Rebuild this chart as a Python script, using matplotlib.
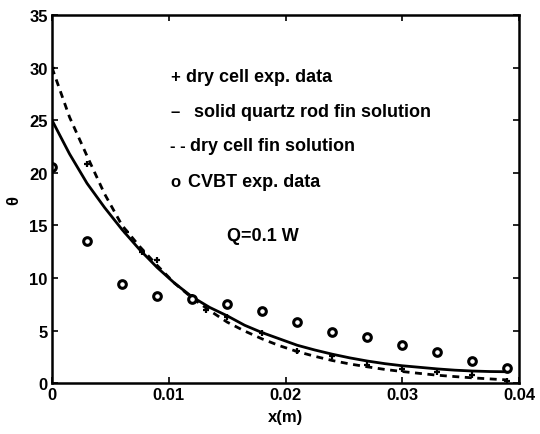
import matplotlib
matplotlib.use("Agg")
import matplotlib.pyplot as plt

plt.rcParams['font.family'] = ['Liberation Sans', 'DejaVu Sans']

# dry cell exp. data (+)
x_dry = [0.0, 0.003, 0.0063, 0.0077, 0.009, 0.012, 0.0132, 0.015, 0.018,
         0.021, 0.024, 0.027, 0.030, 0.033, 0.036, 0.039]
th_dry = [30.0, 20.8, 14.4, 12.5, 11.7, 8.2, 7.0, 6.3, 4.8,
          3.1, 2.6, 1.7, 1.3, 1.1, 0.8, 0.2]

# CVBT exp. data (o)
x_cvbt = [0.0, 0.003, 0.006, 0.009, 0.012, 0.015, 0.018, 0.021, 0.024,
          0.027, 0.030, 0.033, 0.036, 0.039]
th_cvbt = [20.6, 13.5, 9.4, 8.3, 8.0, 7.5, 6.9, 5.8, 4.9,
           4.4, 3.6, 2.95, 2.1, 1.4]

# fin solutions
x_fin = [0.0, 0.0015, 0.003, 0.0045, 0.006, 0.0075, 0.009, 0.0105, 0.012,
         0.0135, 0.015, 0.0165, 0.018, 0.0195, 0.021, 0.0225, 0.024, 0.0255,
         0.027, 0.0285, 0.030, 0.0315, 0.033, 0.0345, 0.036, 0.0375, 0.039]
th_quartz = [25.0, 21.8, 19.0, 16.7, 14.6, 12.7, 11.0, 9.5, 8.2,
             7.2, 6.4, 5.5, 4.8, 4.2, 3.6, 3.15, 2.75, 2.4,
             2.1, 1.85, 1.65, 1.5, 1.35, 1.23, 1.15, 1.1, 1.08]
th_drycell = [30.0, 25.3, 21.6, 18.0, 15.0, 13.0, 11.2, 9.5, 8.1,
              6.9, 5.8, 4.95, 4.2, 3.55, 3.0, 2.55, 2.15, 1.82,
              1.55, 1.3, 1.1, 0.92, 0.75, 0.62, 0.5, 0.4, 0.3]

# legend lines: symbol, label, x position of label (axes fraction)
leg_sym = ['+', '–', '- -', 'o']
leg_txt = ['dry cell exp. data', 'solid quartz rod fin solution',
           'dry cell fin solution', 'CVBT exp. data']
leg_tx = [0.287, 0.304, 0.296, 0.291]
leg_y = [0.834, 0.739, 0.647, 0.549]

fig = plt.figure(figsize=(5.4, 4.35), dpi=100)
ax = fig.add_axes([0.0963, 0.117, 0.865, 0.846])

ax.plot(x_fin, th_quartz, color='black', lw=2)
ax.plot(x_fin, th_drycell, color='black', lw=2, linestyle=(0, (2.5, 2)))
ax.plot(x_dry, th_dry, linestyle='none', marker='+', color='black', ms=5, mew=1.6)
ax.plot(x_cvbt, th_cvbt, linestyle='none', marker='o', mfc='white', mec='black',
        ms=5.5, mew=2.2)

ax.set_xlim(0, 0.04)
ax.set_ylim(0, 35)
ax.set_xticks([0, 0.01, 0.02, 0.03, 0.04])
ax.set_xticklabels(['0', '0.01', '0.02', '0.03', '0.04'])
ax.set_yticks(range(0, 36, 5))
ax.tick_params(direction='in', top=True, right=True, length=4, width=1.2,
               labelsize=12, pad=3)
for lab in ax.get_xticklabels() + ax.get_yticklabels():
    lab.set_fontweight('bold')
for s in ax.spines.values():
    s.set_linewidth(1.8)

ax.set_xlabel('x(m)', fontsize=12, fontweight='bold', labelpad=5)
ax.set_ylabel('θ', fontsize=12, fontweight='bold', labelpad=6)

for sym, t, tx, yy in zip(leg_sym, leg_txt, leg_tx, leg_y):
    ax.text(0.253, yy, sym, transform=ax.transAxes, fontsize=12,
            fontweight='bold', va='center')
    ax.text(tx, yy, t, transform=ax.transAxes, fontsize=13,
            fontweight='bold', va='center')

ax.text(0.015, 14.0, 'Q=0.1 W', fontsize=13, fontweight='bold', va='center')

fig.savefig('out.png', dpi=100)
